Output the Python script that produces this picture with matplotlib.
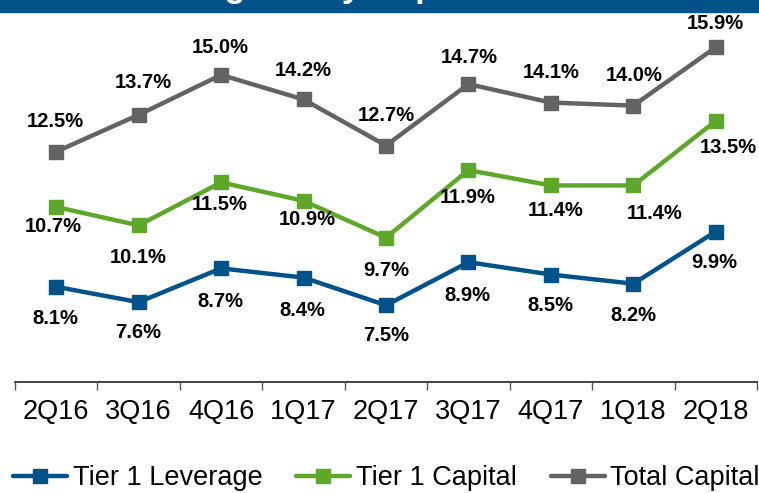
import numpy as np
import matplotlib
matplotlib.use("Agg")
import matplotlib.pyplot as plt
from matplotlib.patches import Rectangle

plt.rcParams['font.family'] = ['Liberation Sans', 'DejaVu Sans']

quarters = ['2Q16', '3Q16', '4Q16', '1Q17', '2Q17', '3Q17', '4Q17', '1Q18', '2Q18']
tier1_leverage = [8.1, 7.6, 8.7, 8.4, 7.5, 8.9, 8.5, 8.2, 9.9]
tier1_capital = [10.7, 10.1, 11.5, 10.9, 9.7, 11.9, 11.4, 11.4, 13.5]
total_capital = [12.5, 13.7, 15.0, 14.2, 12.7, 14.7, 14.1, 14.0, 15.9]

BLUE = '#005289'
GREEN = '#5ea72a'
GRAY = '#636363'

# label nudges in pixels (dx, dy) for each point
lev_off = [(-1, -32), (-1, -30), (-1, -33), (-1, -33), (0, -30), (-1, -33), (-1, -31), (0, -32), (-2, -31)]
cap_off = [(-3, -20), (0, -32), (-1, -22), (4, -19), (0, -33), (-1, -27), (5, -25), (21, -28), (13, -27)]
tot_off = [(-1, 30), (5, 32), (-1, 27), (0, 29), (0, 30), (1, 27), (0, 30), (1, 30), (0, 24)]

fig = plt.figure(figsize=(7.59, 4.93), dpi=100)
ax = fig.add_axes([15 / 759, 111 / 493, 742 / 759, 368.5 / 493])

x = np.arange(len(quarters))
series = [
    ('Tier 1 Leverage', tier1_leverage, BLUE, lev_off),
    ('Tier 1 Capital', tier1_capital, GREEN, cap_off),
    ('Total Capital', total_capital, GRAY, tot_off),
]
for name, vals, col, offs in series:
    ax.plot(x, vals, color=col, lw=3.2, marker='s', ms=9.5,
            solid_capstyle='round', label=name, clip_on=False)
    for xi, v, (dx, dy) in zip(x, vals, offs):
        ax.annotate(f'{v:.1f}%', (xi, v), xytext=(dx, dy),
                    textcoords='offset pixels', ha='center', va='center',
                    fontsize=14.5, fontweight='bold', color='black',
                    annotation_clip=False)

ax.set_xlim(-0.5, len(quarters) - 0.5)
ax.set_ylim(5, 17)
ax.set_yticks([])
ax.set_xticks(x)
ax.set_xticklabels(quarters, fontsize=19.5)
ax.set_xticks(np.arange(-0.5, len(quarters), 1), minor=True)
ax.tick_params(axis='x', which='major', length=0, pad=12)
ax.tick_params(axis='x', which='minor', length=6, width=1, color='#555555')
for s in ['top', 'right', 'left']:
    ax.spines[s].set_visible(False)
ax.spines['bottom'].set_color('#333333')
ax.spines['bottom'].set_linewidth(1.3)
ax.patch.set_alpha(0)

# header banner; the title sits mostly above the top edge
fig.patches.append(Rectangle((0, 1 - 12 / 493), 1, 12 / 493, transform=fig.transFigure,
                             color=BLUE, zorder=0))
fig.text(180 / 759, 1 + 3 / 493, 'Regulatory Capital Ratios', color='white',
         fontsize=25, fontweight='bold', ha='left', va='baseline')

fig.legend(loc='center left', bbox_to_anchor=(13 / 759, 1 - 478 / 493),
           ncol=3, frameon=False, fontsize=19.5, handlelength=2.0,
           handletextpad=0.2, columnspacing=1.25, borderpad=0, borderaxespad=0)

fig.savefig('out.png', dpi=100)
